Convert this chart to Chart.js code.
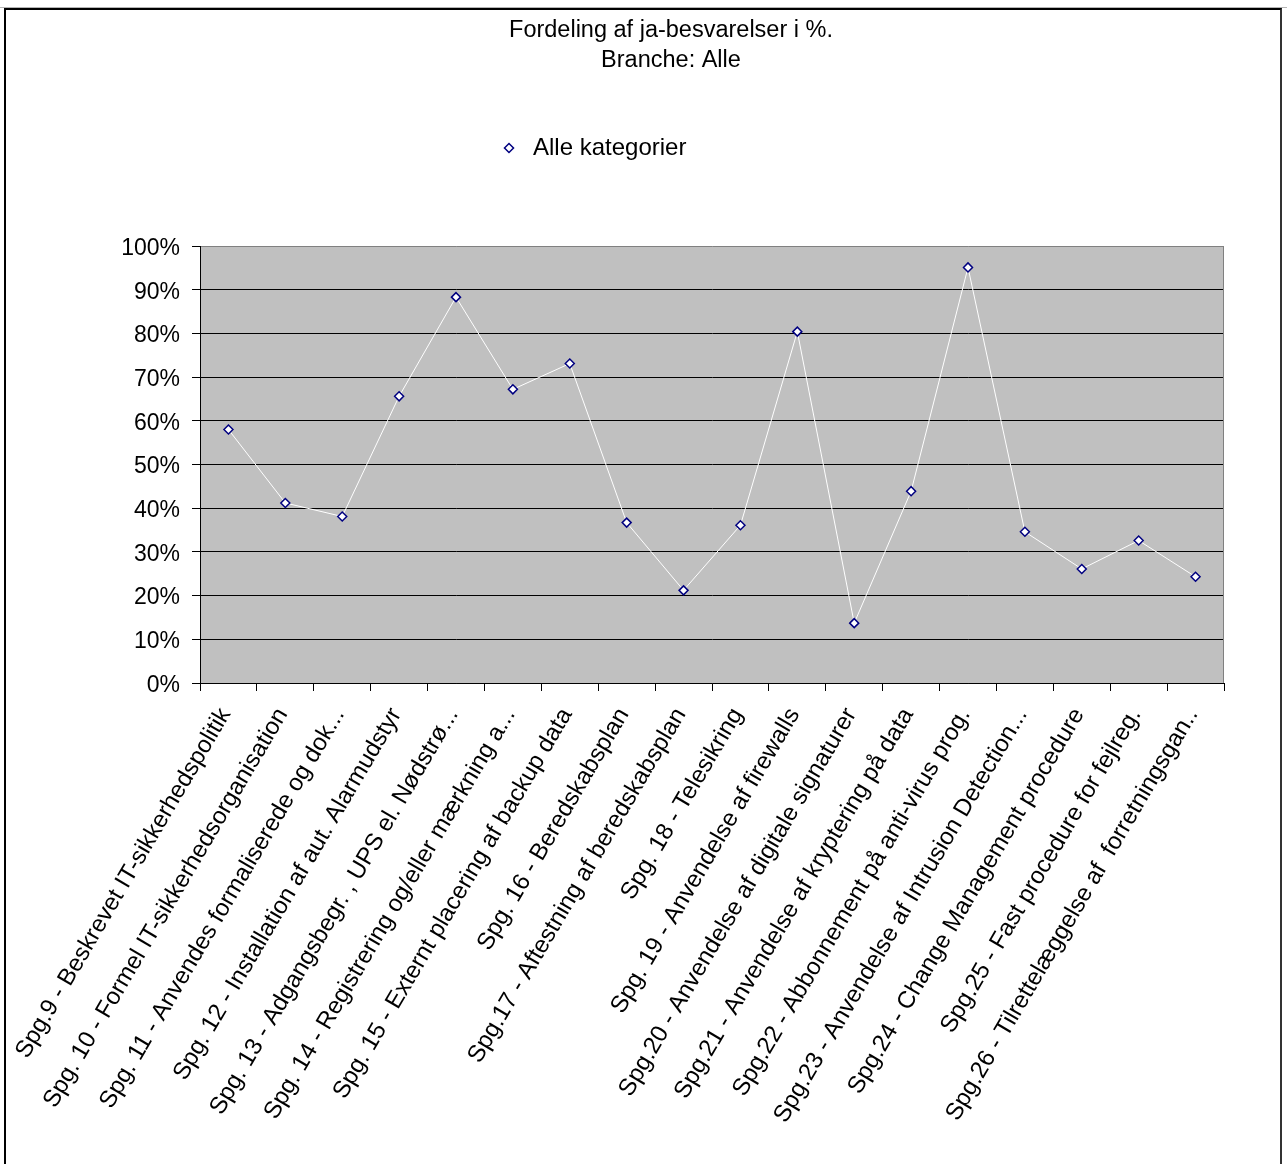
<!DOCTYPE html>
<html lang="da">
<head>
<meta charset="utf-8">
<title>Fordeling af ja-besvarelser i %</title>
<script src="https://cdn.jsdelivr.net/npm/chart.js@4.4.1/dist/chart.umd.min.js"></script>
<style>
  html, body { margin: 0; padding: 0; background: #fff; }
  #wrap { position: relative; width: 1287px; height: 1164px; overflow: hidden; }
  #chart { position: absolute; left: 0; top: 0; }
  #topline { position: absolute; left: 0; top: 7px; width: 1287px; height: 1px; background: #b4b4b4; }
  #frame {
    position: absolute; left: 4px; top: 8px; width: 1274px; height: 1170px;
    border-left: 2px solid #000; border-top: 2px solid #000; border-right: 2px solid #333;
    pointer-events: none;
  }
</style>
</head>
<body>
<div id="wrap">
  <canvas id="chart" width="1287" height="1164"></canvas>
  <div id="topline"></div>
  <div id="frame"></div>
</div>
<script>
// Survey questions (x categories)
const categories = [
  "Spg.9 - Beskrevet IT-sikkerhedspolitik",
  "Spg. 10 - Formel IT-sikkerhedsorganisation",
  "Spg. 11 - Anvendes formaliserede og dok...",
  "Spg. 12 - Installation af aut. Alarmudstyr",
  "Spg. 13 - Adgangsbegr. , UPS el. Nødstrø...",
  "Spg. 14 - Registrering og/eller mærkning a...",
  "Spg. 15 - Externt placering af backup data",
  "Spg. 16 - Beredskabsplan",
  "Spg.17 - Aftestning af beredskabsplan",
  "Spg. 18 - Telesikring",
  "Spg. 19 - Anvendelse af firewalls",
  "Spg.20 - Anvendelse af digitale signaturer",
  "Spg.21 - Anvendelse af kryptering på data",
  "Spg.22 - Abbonnement på anti-virus prog.",
  "Spg.23 - Anvendelse af Intrusion Detection...",
  "Spg.24 - Change Management procedure",
  "Spg.25 - Fast procedure for fejlreg.",
  "Spg.26 - Tilrettelæggelse af  forretningsgan.."
];

// Share of "yes" answers, percent
const yesShare = [58.0, 41.2, 38.1, 65.6, 88.3, 67.2, 73.1, 36.7, 21.2,
                  36.1, 80.4, 13.7, 43.9, 95.1, 34.6, 26.1, 32.6, 24.3];

const seriesName = "Alle kategorier";
const titleLines = ["Fordeling af ja-besvarelser i %.", "Branche: Alle"];
const yTickValues = [0, 10, 20, 30, 40, 50, 60, 70, 80, 90, 100];

const FONT = "'Liberation Sans', Arial, Helvetica, sans-serif";

// Grey plot background, plot frame and legend placement
const plotDecor = {
  id: 'plotDecor',
  beforeDraw(chart) {
    const {ctx, chartArea: a} = chart;
    ctx.save();
    ctx.fillStyle = '#ffffff';
    ctx.fillRect(0, 0, chart.width, chart.height);
    ctx.fillStyle = '#c0c0c0';
    ctx.fillRect(a.left, a.top, a.right - a.left, a.bottom - a.top);
    ctx.restore();
    const lg = chart.legend;
    if (lg) {
      const shiftX = 487 - lg.left;
      const shiftY = 126 - lg.top;
      lg.left += shiftX; lg.right += shiftX;
      lg.top += shiftY; lg.bottom += shiftY;
    }
  },
  beforeDatasetsDraw(chart) {
    const {ctx, chartArea: a} = chart;
    ctx.save();
    ctx.strokeStyle = '#808080';
    ctx.lineWidth = 1;
    ctx.beginPath();
    ctx.moveTo(Math.round(a.right) - 0.5, Math.round(a.top) + 0.5);
    ctx.lineTo(Math.round(a.right) - 0.5, Math.round(a.bottom));
    ctx.stroke();
    ctx.restore();
  }
};

new Chart(document.getElementById('chart'), {
  type: 'line',
  data: {
    labels: categories,
    datasets: [{
      label: seriesName,
      data: yesShare,
      borderColor: '#ffffff',
      borderWidth: 1,
      tension: 0,
      fill: false,
      pointStyle: 'rectRot',
      pointRadius: 4.5,
      pointHoverRadius: 4.5,
      pointBorderWidth: 1.5,
      pointBorderColor: '#000080',
      pointBackgroundColor: '#ffffff'
    }]
  },
  options: {
    responsive: false,
    animation: false,
    devicePixelRatio: 1,
    layout: { padding: { left: 118, right: 63, top: 0, bottom: 0 } },
    plugins: {
      tooltip: { enabled: false },
      title: {
        display: true,
        text: titleLines,
        color: '#000',
        font: { family: FONT, size: 23.5, weight: 'normal', lineHeight: '30px' },
        padding: { top: 16, bottom: 126 }
      },
      legend: {
        display: true,
        position: 'top',
        align: 'start',
        labels: {
          usePointStyle: true,
          boxHeight: 6.4,
          padding: 10,
          color: '#000',
          font: { family: FONT, size: 24 }
        }
      }
    },
    scales: {
      x: {
        type: 'category',
        offset: true,
        border: { display: true, color: '#000', width: 1 },
        grid: {
          offset: true,
          drawOnChartArea: false,
          drawTicks: true,
          tickLength: 8,
          color: '#000',
          tickColor: '#000'
        },
        ticks: {
          autoSkip: false,
          minRotation: 59.5,
          maxRotation: 59.5,
          padding: 12,
          labelOffset: -3,
          color: '#000',
          font: { family: FONT, size: 24 }
        },
        afterFit(scale) {
          scale.height = 1164 - 683;
          scale.paddingLeft = 0;
          scale.paddingRight = 0;
        }
      },
      y: {
        min: 0,
        max: 100,
        border: { display: true, color: '#000', width: 1 },
        grid: {
          drawTicks: true,
          tickLength: 8,
          color: (c) => (c.tick && c.tick.value === 100 ? '#808080' : '#000'),
          tickColor: '#000'
        },
        afterBuildTicks(scale) {
          scale.ticks = yTickValues.map(v => ({ value: v }));
        },
        ticks: {
          padding: 12,
          labelOffset: 2.5,
          color: '#000',
          font: { family: FONT, size: 23 },
          callback: (v) => v + '%'
        },
        afterFit(scale) {
          scale.width = 82;
          scale.paddingTop = 0;
          scale.paddingBottom = 0;
        }
      }
    }
  },
  plugins: [plotDecor]
});
</script>
</body>
</html>
